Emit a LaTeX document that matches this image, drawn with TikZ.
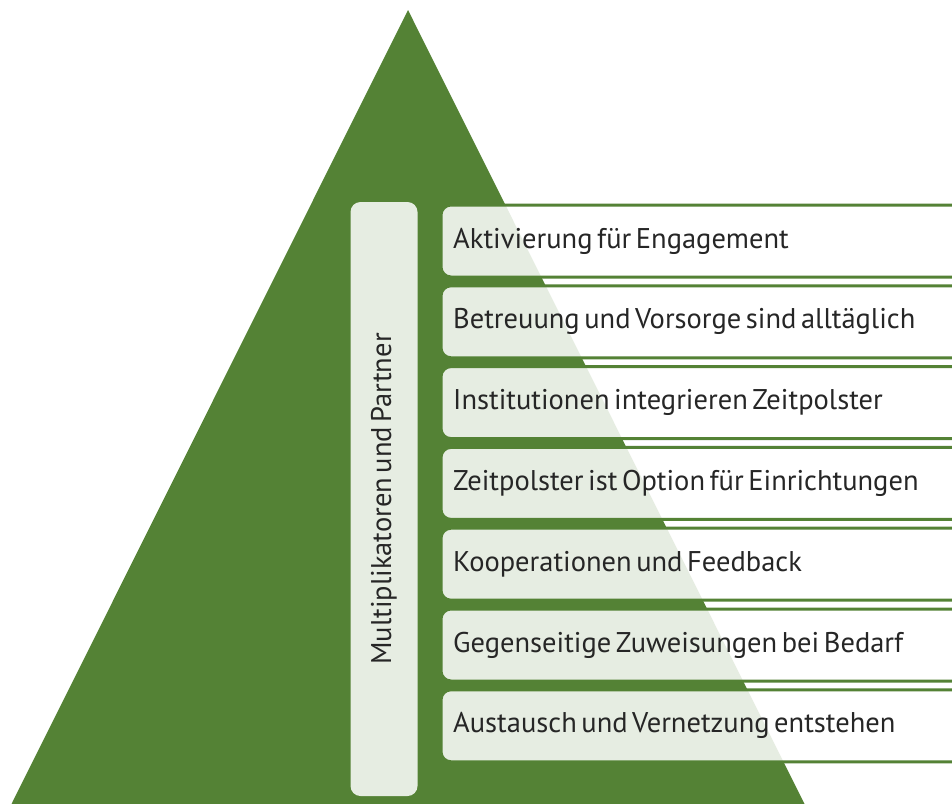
\documentclass[tikz,border=0pt]{standalone}
\usepackage{fontspec}
\setmainfont[WordSpace=0.6]{PT Sans}
\usetikzlibrary{positioning}

\definecolor{leaf}{HTML}{548235}
\definecolor{ink}{HTML}{262626}

\begin{document}
\begin{tikzpicture}[
    x=1pt, y=-1pt,
    node distance=8.8pt,
    stepbox/.style={draw=leaf, line width=3pt, rounded corners=10pt, fill=white, fill opacity=0.86,
      outer sep=0pt, anchor=north west, minimum width=540pt, minimum height=72pt},
    steptext/.style={inner sep=0pt, text=ink, font=\fontsize{28.5}{32}\selectfont},
    sidebox/.style={rounded corners=10pt, fill=white, fill opacity=0.86, text opacity=1, outer sep=0pt,
      text=ink, font=\fontsize{28.5}{32}\selectfont}
  ]
    \useasboundingbox (0,0) rectangle (952,803);
    \clip (0,0) rectangle (952,803);

    % pyramid in the back
    \fill[leaf] (408,10) -- (7,813) -- (809,813) -- cycle;

    \node[sidebox, rotate=90, minimum width=594pt, minimum height=67pt] (partner) at (384,499) {Multiplikatoren und Partner};

    % stacked boxes, running off the right edge
    \node[stepbox] (s1) at (441,205) {};
    \node[stepbox, below=of s1.south west, anchor=north west] (s2) {};
    \node[stepbox, below=of s2.south west, anchor=north west] (s3) {};
    \node[stepbox, below=of s3.south west, anchor=north west] (s4) {};
    \node[stepbox, below=of s4.south west, anchor=north west] (s5) {};
    \node[stepbox, below=of s5.south west, anchor=north west] (s6) {};
    \node[stepbox, below=of s6.south west, anchor=north west] (s7) {};

    \node[steptext, right=12pt of s1.west] (t1) {Aktivierung für Engagement};
    \node[steptext, right=12pt of s2.west] (t2) {Betreuung und Vorsorge sind alltäglich};
    \node[steptext, right=12pt of s3.west] (t3) {Institutionen integrieren Zeitpolster};
    \node[steptext, right=12pt of s4.west] (t4) {Zeitpolster ist Option für Einrichtungen};
    \node[steptext, right=12pt of s5.west] (t5) {Kooperationen und Feedback};
    \node[steptext, right=12pt of s6.west] (t6) {Gegenseitige Zuweisungen bei Bedarf};
    \node[steptext, right=12pt of s7.west] (t7) {Austausch und Vernetzung entstehen};
  \end{tikzpicture}
\end{document}
